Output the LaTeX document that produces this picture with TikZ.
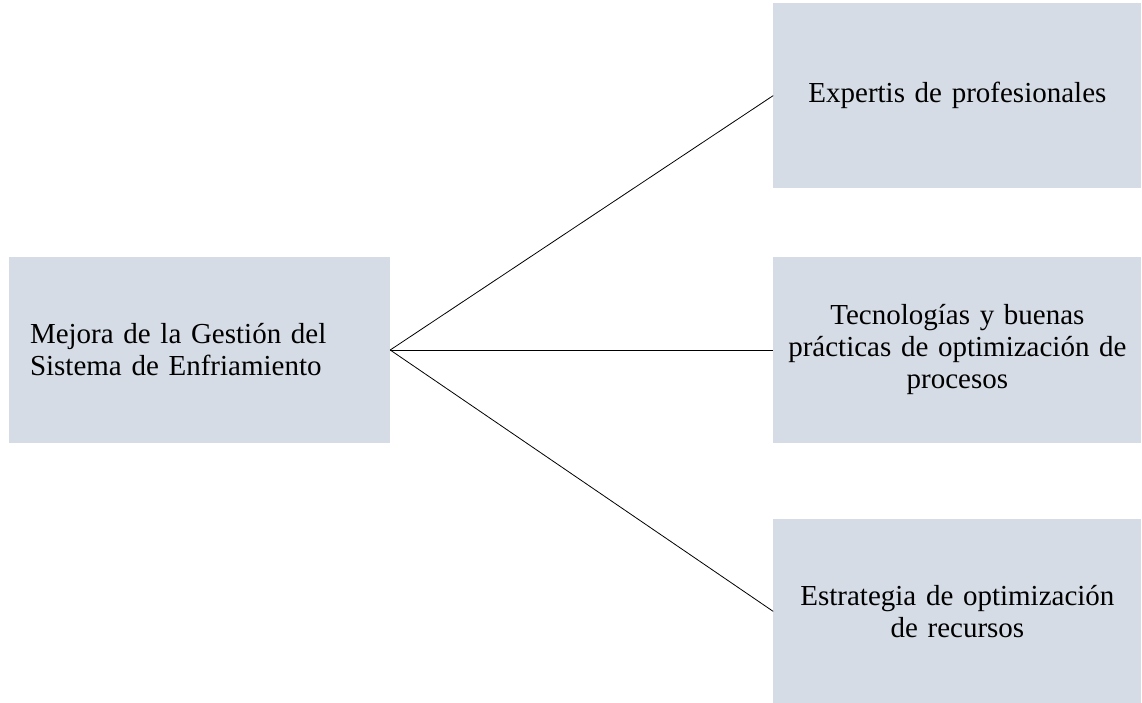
\documentclass[tikz,border=0pt]{standalone}
\usepackage{fontspec}
\setmainfont{Liberation Serif}
\usetikzlibrary{positioning}
\definecolor{boxfill}{HTML}{D6DCE5}

\begin{document}
\begin{tikzpicture}[
x=1pt, y=1pt,
box/.style={fill=boxfill, align=center, minimum height=185pt, text width=348pt, inner xsep=10pt, font=\fontsize{29}{32}\selectfont},
mainbox/.style={fill=boxfill, align=left, minimum height=186pt, text width=339pt, inner xsep=21pt, font=\fontsize{29}{32}\selectfont},
conn/.style={draw, line width=0.8pt}
]
\useasboundingbox (0,0) rectangle (1142,702);
\node[mainbox] (mejora) at (199.5,352) {Mejora de la Gestión del\\Sistema de Enfriamiento};
\node[box, right=383pt of mejora] (tecno) {Tecnologías y buenas\\prácticas de optimización de\\procesos};
\node[box, above=69pt of tecno] (expertis) {Expertis de profesionales};
\node[box, below=76pt of tecno] (estrategia) {Estrategia de optimización\\de recursos};
\draw[conn] (mejora.east) -- (expertis.west);
\draw[conn] (mejora.east) -- (tecno.west);
\draw[conn] (mejora.east) -- (estrategia.west);
\end{tikzpicture}
\end{document}
